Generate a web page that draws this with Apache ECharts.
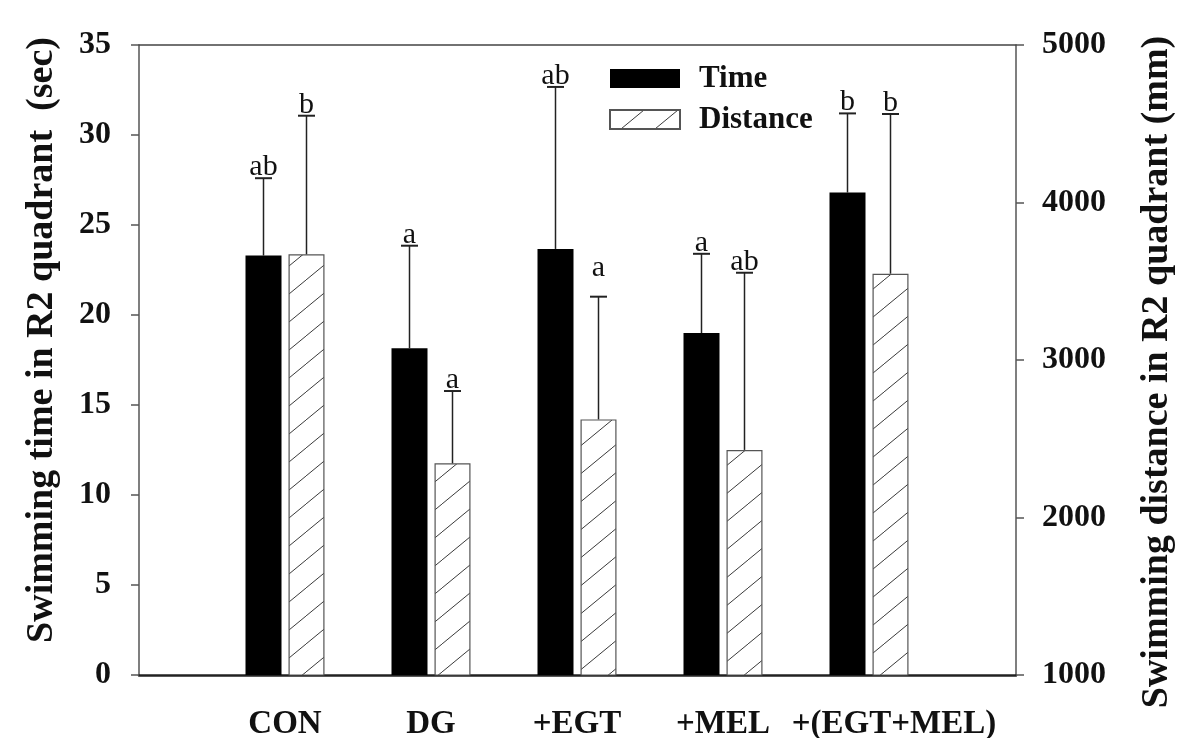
<!DOCTYPE html>
<html>
<head>
<meta charset="utf-8">
<script src="https://cdn.jsdelivr.net/npm/echarts@6/dist/echarts.min.js"></script>
<style>
html,body{margin:0;padding:0;background:#fff;}
#chart{width:1179px;height:738px;}
</style>
</head>
<body>
<div id="chart"></div>
<script>
// ---- data ----
const categories = ['CON', 'DG', '+EGT', '+MEL', '+(EGT+MEL)'];
const timeMean = [23.3, 18.15, 23.67, 19.0, 26.8];
const timeSD = [4.3, 5.7, 9.0, 4.4, 4.4];
const timeLetters = ['ab', 'a', 'ab', 'a', 'b'];
const distMean = [3671, 2344, 2623, 2429, 3548];
const distSD = [880, 459, 779, 1125, 1014];
const distLetters = ['b', 'a', 'a', 'ab', 'b'];
const leftTicks = { min: 0, max: 35, interval: 5 };
const rightTicks = { min: 1000, max: 5000, interval: 1000 };

// ---- styling constants ----
const FONT = "'Liberation Serif','Times New Roman',serif";
const BAR_W = 36;
const BAR_GAP = 7;

function hatch() {
  const c = document.createElement('canvas');
  c.width = 34; c.height = 28;
  const ctx = c.getContext('2d');
  ctx.fillStyle = '#ffffff';
  ctx.fillRect(0, 0, 34, 28);
  ctx.strokeStyle = '#3a3a3a';
  ctx.lineWidth = 1.0;
  ctx.beginPath();
  ctx.moveTo(-3.4, 30.8);
  ctx.lineTo(37.4, -2.8);
  ctx.stroke();
  return c;
}
const hatchPattern = { image: hatch(), repeat: 'repeat' };

function errRender(means, sds, letters, side, lift) {
  return function (params, api) {
    const i = params.dataIndex;
    const m = means[i], t = means[i] + sds[i];
    const p0 = api.coord([i, m]);
    const p1 = api.coord([i, t]);
    const x = p0[0] + side * (BAR_W + BAR_GAP) / 2;
    const capY = p1[1];
    const extra = (lift && lift[i]) || 0;
    return {
      type: 'group',
      children: [
        { type: 'line', shape: { x1: x, y1: p0[1], x2: x, y2: capY }, style: { stroke: '#222', lineWidth: 1.5 } },
        { type: 'line', shape: { x1: x - 8.5, y1: capY, x2: x + 8.5, y2: capY }, style: { stroke: '#222', lineWidth: 2 } },
        { type: 'text', x: x, y: capY + 4 - extra,
          style: { text: letters[i], fontFamily: FONT, fontSize: 30, fill: '#111', align: 'center', verticalAlign: 'bottom' } }
      ]
    };
  };
}

const chart = echarts.init(document.getElementById('chart'), null, { renderer: 'canvas' });
chart.setOption({
  animation: false,
  backgroundColor: '#ffffff',
  grid: [
    { left: 139, right: 163, top: 45, bottom: 63, containLabel: false, outerBoundsMode: 'none' },
    { left: 212, right: 237, top: 45, bottom: 63, containLabel: false, outerBoundsMode: 'none' }
  ],
  legend: {
    data: ['Time', 'Distance'],
    orient: 'vertical',
    left: 609, top: 63, padding: 0,
    icon: 'rect',
    itemWidth: 70, itemHeight: 19,
    itemGap: 10,
    textStyle: { fontFamily: FONT, fontSize: 31, fontWeight: 'bold', color: '#111', lineHeight: 30,
      padding: [0, 0, 0, 14] }
  },
  xAxis: [
    { gridIndex: 0, type: 'value', position: 'bottom', min: 0, max: 1,
      axisLine: { show: true, onZero: false, lineStyle: { color: '#222', width: 2.5 } },
      axisTick: { show: false }, axisLabel: { show: false }, splitLine: { show: false } },
    { gridIndex: 0, type: 'value', position: 'top', min: 0, max: 1,
      axisLine: { show: true, onZero: false, lineStyle: { color: '#444', width: 1.5 } },
      axisTick: { show: false }, axisLabel: { show: false }, splitLine: { show: false } },
    { gridIndex: 1, type: 'category', data: categories, position: 'bottom',
      axisLine: { show: false, onZero: false }, axisTick: { show: false },
      axisLabel: {
        interval: 0, hideOverlap: false,
        margin: 33, fontFamily: FONT, fontSize: 33, fontWeight: 'bold', color: '#111',
        formatter: function (v) { return v === '+(EGT+MEL)' ? '{w|' + v + '}' : v; },
        rich: { w: { fontFamily: FONT, fontSize: 33, fontWeight: 'bold', color: '#111', padding: [0, 0, 0, 50] } }
      } }
  ],
  yAxis: [
    { gridIndex: 0, type: 'value', position: 'left', min: leftTicks.min, max: leftTicks.max, interval: leftTicks.interval,
      axisLine: { show: true, onZero: false, lineStyle: { color: '#555', width: 1.5 } },
      axisTick: { show: true, inside: false, length: 8, lineStyle: { color: '#555', width: 1.5 } },
      axisLabel: { margin: 28, fontFamily: FONT, fontSize: 32, fontWeight: 'bold', color: '#111' },
      splitLine: { show: false },
      name: 'Swimming time in R2 quadrant  (sec)', nameLocation: 'middle', nameGap: 78,
      nameTextStyle: { fontFamily: FONT, fontSize: 38, fontWeight: 'bold', color: '#111', padding: [0, 0, 0, 40] } },
    { gridIndex: 0, type: 'value', position: 'right', min: rightTicks.min, max: rightTicks.max, interval: rightTicks.interval,
      axisLine: { show: true, onZero: false, lineStyle: { color: '#555', width: 1.5 } },
      axisTick: { show: true, inside: false, length: 8, lineStyle: { color: '#555', width: 1.5 } },
      axisLabel: { margin: 26, fontFamily: FONT, fontSize: 32, fontWeight: 'bold', color: '#111',
        formatter: function (v) { return String(v); } },
      splitLine: { show: false },
      name: 'Swimming distance in R2 quadrant (mm)', nameLocation: 'middle', nameGap: 122,
      nameTextStyle: { fontFamily: FONT, fontSize: 38, fontWeight: 'bold', color: '#111', padding: [0, 24, 0, 0] } },
    { gridIndex: 1, type: 'value', min: leftTicks.min, max: leftTicks.max, show: false, splitLine: { show: false } },
    { gridIndex: 1, type: 'value', min: rightTicks.min, max: rightTicks.max, show: false, splitLine: { show: false } }
  ],
  series: [
    { name: 'Time', type: 'bar', xAxisIndex: 2, yAxisIndex: 2, data: timeMean,
      barWidth: BAR_W, barGap: (BAR_GAP / BAR_W * 100) + '%',
      itemStyle: { color: '#000000' }, z: 2 },
    { name: 'Distance', type: 'bar', xAxisIndex: 2, yAxisIndex: 3, data: distMean,
      barWidth: BAR_W,
      itemStyle: { color: hatchPattern, borderColor: '#555', borderWidth: 1.2 }, z: 2 },
    { name: 'TimeErr', type: 'custom', xAxisIndex: 2, yAxisIndex: 2,
      data: timeMean.map(function (v, i) { return [i, v + timeSD[i]]; }),
      renderItem: errRender(timeMean, timeSD, timeLetters, -1, null), z: 3 },
    { name: 'DistErr', type: 'custom', xAxisIndex: 2, yAxisIndex: 3,
      data: distMean.map(function (v, i) { return [i, v + distSD[i]]; }),
      renderItem: errRender(distMean, distSD, distLetters, 1, { 2: 18 }), z: 3 }
  ]
});
</script>
</body>
</html>
